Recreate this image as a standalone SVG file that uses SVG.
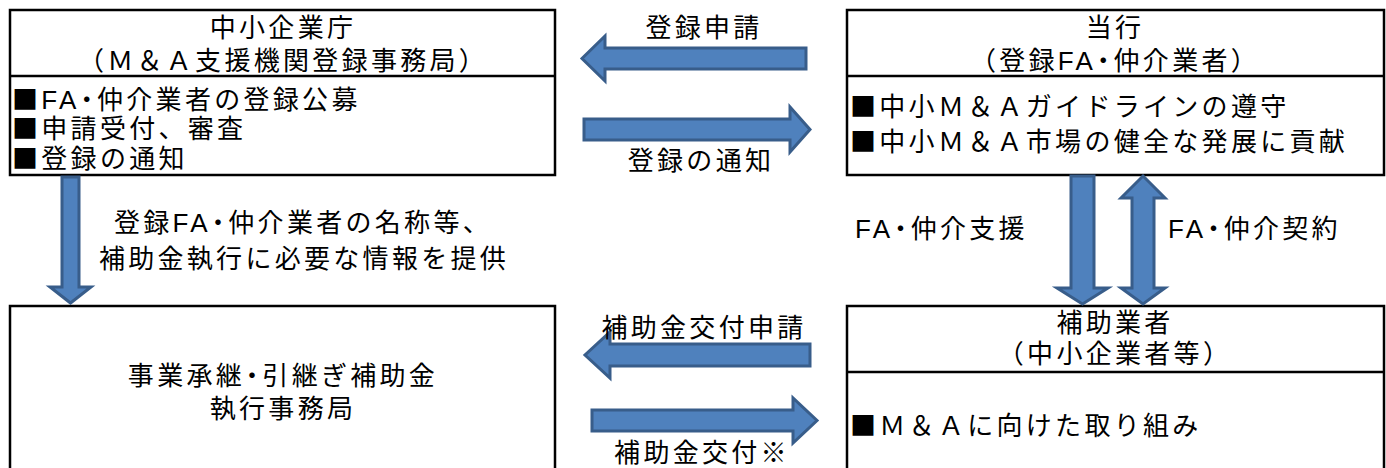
<svg xmlns="http://www.w3.org/2000/svg" width="1386" height="468" viewBox="0 0 1386 468">
<style>
.box{fill:#fff;stroke:#000;stroke-width:2.5}
.div{stroke:#000;stroke-width:2.5}
.t{font-family:"Liberation Sans","Noto Sans CJK JP",sans-serif;font-size:26px;fill:#000;letter-spacing:3.3px}
.c{text-anchor:middle}
.sq{font-family:"Noto Sans CJK JP",sans-serif}
.arr{fill:#4F81BD;stroke:#385D8A;stroke-width:3;stroke-linejoin:miter}
</style>
<rect width="1386" height="468" fill="#fff"/>
<g id="node-sme-agency">
<rect class="box" x="10" y="10" width="545" height="165"/>
<line class="div" x1="10" y1="76" x2="555" y2="76"/>
<text class="t c" x="283" y="37">中小企業庁</text>
<text class="t c" x="283" y="70">（Ｍ＆Ａ支援機関登録事務局）</text>
<text class="t" x="12" y="109"><tspan class="sq">■</tspan>FA<tspan dx="-6">・</tspan><tspan dx="-6">仲介業者の登録公募</tspan></text>
<text class="t" x="12" y="138"><tspan class="sq">■</tspan>申請受付、審査</text>
<text class="t" x="12" y="168"><tspan class="sq">■</tspan>登録の通知</text>
</g>
<g id="node-bank">
<rect class="box" x="847" y="10" width="537" height="165"/>
<line class="div" x1="847" y1="76" x2="1384" y2="76"/>
<text class="t c" x="1115" y="37">当行</text>
<text class="t c" x="1115" y="70">（登録FA<tspan dx="-6">・</tspan><tspan dx="-6">仲介業者）</tspan></text>
<text class="t" x="850" y="116"><tspan class="sq">■</tspan>中小Ｍ＆Ａガイドラインの遵守</text>
<text class="t" x="850" y="151"><tspan class="sq">■</tspan>中小Ｍ＆Ａ市場の健全な発展に貢献</text>
</g>
<g id="node-secretariat">
<rect class="box" x="10" y="306" width="545" height="175"/>
<text class="t c" x="283" y="385">事業承継<tspan dx="-6">・</tspan><tspan dx="-6">引継ぎ補助金</tspan></text>
<text class="t c" x="283" y="418">執行事務局</text>
</g>
<g id="node-subsidized">
<rect class="box" x="847" y="306" width="537" height="175"/>
<line class="div" x1="847" y1="372" x2="1384" y2="372"/>
<text class="t c" x="1115" y="332">補助業者</text>
<text class="t c" x="1115" y="363">（中小企業者等）</text>
<text class="t" x="850" y="435"><tspan class="sq">■</tspan>Ｍ＆Ａに向けた取り組み</text>
</g>
<g id="connectors">
<path class="arr" d="M806,48 L605,48 L605,36 L582,58.5 L605,81 L605,69 L806,69 Z"/>
<text class="t c" x="704" y="37">登録申請</text>
<path class="arr" d="M584,119 L790,119 L790,107 L810,129.5 L790,152 L790,140 L584,140 Z"/>
<text class="t c" x="701" y="170">登録の通知</text>
<path class="arr" d="M62,177 L79,177 L79,287 L91,287 L70.5,303 L50,287 L62,287 Z"/>
<text class="t c" x="303" y="232">登録FA<tspan dx="-6">・</tspan><tspan dx="-6">仲介業者の名称等、</tspan></text>
<text class="t c" x="304" y="268">補助金執行に必要な情報を提供</text>
<path class="arr" d="M1071,176 L1094,176 L1094,288 L1108,288 L1082.5,304 L1057,288 L1071,288 Z"/>
<path class="arr" d="M1143,176 L1165,198 L1154,198 L1154,288 L1165,288 L1143,304 L1121,288 L1132,288 L1132,198 L1121,198 Z"/>
<text class="t" x="855" y="238">FA<tspan dx="-6">・</tspan><tspan dx="-6">仲介支援</tspan></text>
<text class="t" x="1168" y="238">FA<tspan dx="-6">・</tspan><tspan dx="-6">仲介契約</tspan></text>
<path class="arr" d="M810,344 L610,344 L610,332 L585,355 L610,378 L610,366 L810,366 Z"/>
<text class="t c" x="704" y="337">補助金交付申請</text>
<path class="arr" d="M592,410 L793,410 L793,398 L817,420.5 L793,443 L793,431 L592,431 Z"/>
<text class="t c" x="702" y="462">補助金交付※</text>
</g>
</svg>
